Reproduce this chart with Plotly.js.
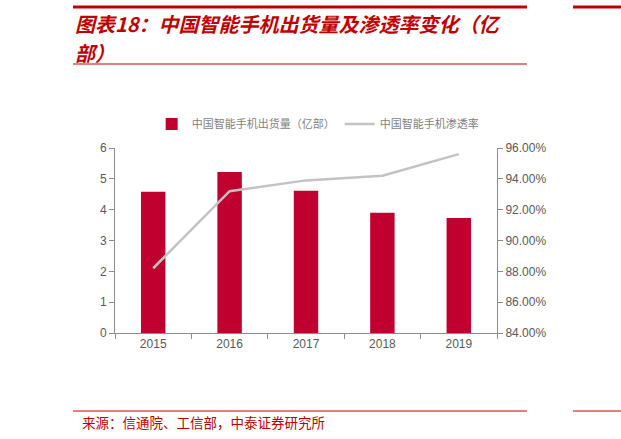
<!DOCTYPE html>
<html>
<head>
<meta charset="utf-8">
<script src="https://cdn.plot.ly/plotly-3.0.1.min.js"></script>
<style>
  html, body { margin: 0; padding: 0; background: #fff; }
  #chart { width: 621px; height: 439px; }
</style>
</head>
<body>
<div id="chart"></div>
<script>
// Chart data
const years = ['2015', '2016', '2017', '2018', '2019'];
const shipments = [4.58, 5.22, 4.61, 3.90, 3.73];      // 亿部
const penetration = [88.2, 93.2, 93.9, 94.2, 95.6];    // %

const titleLines = ['图表18：中国智能手机出货量及渗透率变化（亿', '部）'];
const sourceText = '来源：信通院、工信部，中泰证券研究所';
const barName = '中国智能手机出货量（亿部）';
const lineName = '中国智能手机渗透率';

const red = '#c00000';
const axisGrey = '#8c8c8c';
const tickFont = { family: 'Liberation Sans, Arial, sans-serif', size: 12, color: '#595959' };

// plot area in pixels: left 115, right 497, top 148, bottom 333
const px = x => (x - 115) / 382;
const py = y => (333 - y) / 185;

const traces = [
    {
        x: years,
        y: shipments,
        type: 'bar',
        name: barName,
        marker: { color: '#c0002f' },
        hoverinfo: 'x+y'
    },
    {
        x: years,
        y: penetration,
        type: 'scatter',
        mode: 'lines',
        name: lineName,
        yaxis: 'y2',
        line: { color: '#c3c3c3', width: 2.5 },
        hoverinfo: 'x+y'
    }
];

function rule(x0, x1, y, width) {
    return {
        type: 'line', xref: 'paper', yref: 'paper',
        x0: px(x0), x1: px(x1), y0: py(y), y1: py(y),
        line: { color: red, width: width }
    };
}

function titleLine(text, y) {
    return {
        text: '<b><i>' + text + '</i></b>',
        xref: 'paper', yref: 'paper',
        x: px(73), y: py(y),
        xanchor: 'left', yanchor: 'middle',
        showarrow: false,
        font: { family: 'Noto Sans CJK SC, sans-serif', size: 20, color: red }
    };
}

const layout = {
    width: 621,
    height: 439,
    margin: { t: 148, r: 124, b: 106, l: 115 },
    paper_bgcolor: 'white',
    plot_bgcolor: 'white',
    bargap: 0.68,
    showlegend: true,
    legend: {
        orientation: 'h',
        x: 0.096,
        y: 1.13,
        xanchor: 'left',
        yanchor: 'middle',
        font: { family: 'Noto Sans CJK SC, sans-serif', size: 11, color: '#7f7f7f' },
        itemwidth: 30,
        traceorder: 'normal'
    },
    xaxis: {
        type: 'category',
        tickfont: tickFont,
        showline: true,
        linecolor: axisGrey,
        linewidth: 1,
        ticks: 'outside',
        tickson: 'boundaries',
        ticklen: 5,
        tickcolor: axisGrey,
        showgrid: false,
        zeroline: false
    },
    yaxis: {
        range: [0, 6],
        dtick: 1,
        tickfont: tickFont,
        showline: true,
        linecolor: axisGrey,
        ticks: 'outside',
        ticklen: 5,
        tickcolor: axisGrey,
        showgrid: false,
        zeroline: false
    },
    yaxis2: {
        overlaying: 'y',
        side: 'right',
        range: [84, 96],
        dtick: 2,
        tickformat: '.2f',
        ticksuffix: '%',
        tickfont: tickFont,
        showline: true,
        linecolor: axisGrey,
        ticks: 'outside',
        ticklen: 5,
        tickcolor: axisGrey,
        showgrid: false,
        zeroline: false
    },
    annotations: [
        titleLine(titleLines[0], 23),
        titleLine(titleLines[1], 52),
        {
            text: sourceText,
            xref: 'paper', yref: 'paper',
            x: px(80), y: py(422),
            xanchor: 'left', yanchor: 'middle',
            showarrow: false,
            font: { family: 'Noto Sans CJK SC, sans-serif', size: 13.5, color: red }
        }
    ],
    shapes: [
        // rules round the title and above the source line
        rule(73, 527, 7, 3),
        rule(573, 621, 7, 3),
        rule(73, 527, 64, 1),
        rule(73, 527, 411, 1),
        rule(573, 621, 411, 1)
    ]
};

Plotly.newPlot('chart', traces, layout, { displayModeBar: false, staticPlot: true });
</script>
</body>
</html>
